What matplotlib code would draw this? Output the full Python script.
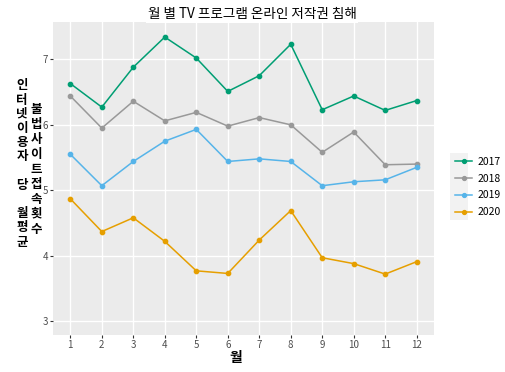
import matplotlib
matplotlib.use("Agg")
import matplotlib.pyplot as plt
from matplotlib.patches import Rectangle

plt.rcParams['font.family'] = ['Noto Sans CJK KR', 'DejaVu Sans']

# data
months = [1, 2, 3, 4, 5, 6, 7, 8, 9, 10, 11, 12]
years = ['2017', '2018', '2019', '2020']
v2017 = [6.63, 6.27, 6.88, 7.34, 7.02, 6.51, 6.75, 7.23, 6.23, 6.44, 6.22, 6.37]
v2018 = [6.44, 5.95, 6.36, 6.06, 6.19, 5.98, 6.11, 6.00, 5.58, 5.89, 5.39, 5.40]
v2019 = [5.55, 5.07, 5.44, 5.75, 5.93, 5.44, 5.48, 5.44, 5.07, 5.13, 5.16, 5.35]
v2020 = [4.87, 4.37, 4.58, 4.22, 3.77, 3.73, 4.24, 4.69, 3.97, 3.88, 3.72, 3.91]
series = [v2017, v2018, v2019, v2020]
colors = ['#009E73', '#999999', '#56B4E9', '#E69F00']

fig = plt.figure(figsize=(5.05, 3.72), dpi=100)
# panel: x 53..434 px, y 22..335 px
ax = fig.add_axes([53 / 505, 1 - 335 / 372, (434 - 53) / 505, (335 - 22) / 372])
ax.set_facecolor('#EBEBEB')
for s in ax.spines.values():
    s.set_visible(False)

for vals, c, yr in zip(series, colors, years):
    ax.plot(months, vals, color=c, lw=1.1, marker='o', ms=3.1, label=yr)

ax.set_xlim(0.45, 12.55)
ax.set_ylim(2.79, 7.57)
ax.set_xticks(months)
ax.set_yticks([3, 4, 5, 6, 7])
ax.grid(True, color='white', lw=1.0)
ax.set_axisbelow(True)
ax.tick_params(colors='#333333', labelcolor='#4D4D4D', labelsize=7, length=2.5, width=0.8, pad=1.2)

fig.text(252 / 505, 1 - 14 / 372, '월 별 TV 프로그램 온라인 저작권 침해', ha='center', va='center',
         fontsize=9.8, bbox=dict(facecolor='white', edgecolor='none', pad=1.5))
fig.text(236 / 505, 1 - 358 / 372, '월', ha='center', va='center', fontsize=10, fontweight='bold')

fig.text(22 / 505, 1 - 164 / 372, '인\n터\n넷\n이\n용\n자\n\n당\n\n월\n평\n균',
         ha='center', va='center', fontsize=9, fontweight='bold', linespacing=1.12)
fig.text(36 / 505, 1 - 169 / 372, '불\n법\n사\n이\n트\n접\n속\n횟\n수',
         ha='center', va='center', fontsize=9, fontweight='bold', linespacing=1.2)

# legend key background like ggplot
fig.patches.append(Rectangle((450 / 505, 1 - 220 / 372), 18 / 505, 67 / 372,
                             transform=fig.transFigure, facecolor='#F2F2F2', edgecolor='none'))
fig.legend(loc='center left', bbox_to_anchor=(446 / 505, 1 - 187 / 372), frameon=False,
           fontsize=7.5, handlelength=1.6, handletextpad=0.5, labelspacing=0.65, markerscale=0.9)

fig.savefig('out.png', dpi=100)
